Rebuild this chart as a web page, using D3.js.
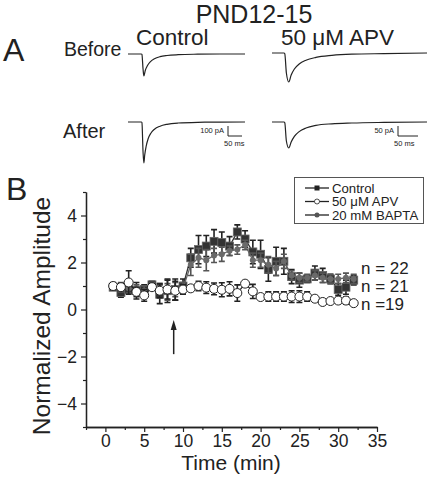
<!DOCTYPE html>
<html><head><meta charset="utf-8">
<script src="https://cdn.jsdelivr.net/npm/d3@7"></script>
<style>body{margin:0;background:#fff}svg{display:block}text{font-family:"Liberation Sans",Arial,sans-serif;fill:#222}</style>
</head><body><svg id="c" width="430" height="477"></svg>
<script>
// ---------- data ----------
const times = d3.range(1, 33); // minutes 1..32
const controlVals = [0.95,0.72,0.85,0.8,0.85,1.05,0.65,0.8,0.85,1.0,2.2,2.55,2.7,2.9,2.85,2.7,3.3,3.0,2.45,2.35,1.7,2.05,2.05,1.4,1.25,1.3,1.55,1.45,1.3,0.85,0.95,1.25];
const controlErr  = [0.1,0.2,0.15,0.35,0.2,0.15,0.4,0.5,0.45,0.3,0.4,0.6,0.45,0.5,0.45,0.4,0.3,0.35,0.5,0.6,0.5,0.6,0.55,0.3,0.3,0.15,0.3,0.3,0.2,0.25,0.3,0.2];
const apvVals = [1.0,0.95,1.15,0.75,0.6,0.95,0.8,0.85,0.8,0.85,0.9,1.0,0.93,0.88,0.84,0.88,0.7,1.1,0.77,0.53,0.55,0.55,0.55,0.55,0.55,0.55,0.46,0.32,0.36,0.38,0.38,0.27];
const apvErr  = [0.1,0.1,0.5,0.2,0.25,0.1,0.3,0.4,0.4,0.2,0.1,0.2,0.25,0.25,0.3,0.3,0.35,0.1,0.3,0.1,0.2,0.2,0.2,0.25,0.25,0.2,0.1,0.1,0.1,0.1,0.15,0.1];
const baptaVals = [1.0,0.95,0.9,0.85,0.8,1.0,0.8,0.75,0.85,0.9,1.9,2.2,2.1,2.3,2.35,2.5,2.55,2.75,2.1,2.1,1.9,1.75,2.05,1.45,1.35,1.35,1.45,1.35,1.3,1.3,1.35,1.3];
const baptaErr  = [0.15,0.2,0.2,0.2,0.2,0.15,0.3,0.35,0.3,0.25,0.45,0.4,0.45,0.3,0.3,0.2,0.2,0.2,0.3,0.3,0.35,0.3,0.3,0.2,0.2,0.15,0.2,0.2,0.2,0.2,0.2,0.2];
const seriesNames = ["Control","50 \u03bcM APV","20 mM BAPTA"];
const nLabels = ["n = 22","n = 21","n =19"];
const xTicks = [0,5,10,15,20,25,30,35];
const yTicks = [-4,-2,0,2,4];
const stimTime = 8.8;
// EPSC traces: [ms, pA]
const ctrlBefore = [[0,0],[48,0],[50,-4],[54,-150],[57,-220],[62,-165],[70,-115],[80,-78],[95,-48],[115,-27],[140,-15],[180,-7],[250,-2],[330,0],[420,0]];
const ctrlAfter  = [[0,0],[48,0],[50,-5],[54,-300],[57,-410],[60,-330],[65,-245],[72,-170],[82,-112],[95,-72],[115,-42],[140,-23],[180,-10],[250,-3],[330,-1],[420,0]];
const apvBefore  = [[0,0],[30,0],[32,-4],[36,-100],[42,-145],[48,-110],[56,-80],[68,-55],[85,-36],[110,-22],[150,-12],[200,-6],[280,-3],[388,0]];
const apvAfter   = [[0,0],[30,0],[32,-4],[36,-95],[42,-130],[48,-100],[56,-72],[68,-48],[85,-30],[110,-17],[150,-9],[200,-5],[280,-2],[388,0]];

const svg = d3.select("#c");

// ---------- panel A ----------
svg.append("text").attr("x",254).attr("y",23).attr("text-anchor","middle").attr("font-size",25).text("PND12-15");
svg.append("text").attr("x",3).attr("y",61).attr("font-size",32).text("A");
svg.append("text").attr("x",136).attr("y",45).attr("font-size",22.5).text("Control");
svg.append("text").attr("x",281).attr("y",45).attr("font-size",22.5).text("50 \u03bcM APV");
svg.append("text").attr("x",64).attr("y",56).attr("font-size",19.5).text("Before");
svg.append("text").attr("x",63).attr("y",138).attr("font-size",20).text("After");

function drawTrace(data, x0, x1, tMax, y0, pxPerPA){
  const xs = d3.scaleLinear().domain([0,tMax]).range([x0,x1]);
  const ys = d3.scaleLinear().domain([0,-1]).range([y0,y0+pxPerPA]);
  svg.append("path").datum(data).attr("fill","none").attr("stroke","#222").attr("stroke-width",1.2)
    .attr("d", d3.line().x(d=>xs(d[0])).y(d=>ys(d[1])).curve(d3.curveMonotoneX));
}
drawTrace(ctrlBefore,128,245,420,54,0.1);
drawTrace(ctrlAfter,128,245,420,122,0.1);
drawTrace(apvBefore,272,427,388,53,0.2);
drawTrace(apvAfter,272,427,388,122,0.2);

function scaleBar(xb, w, lab){
  svg.append("path").attr("d",`M${xb},126V136H${xb+w}`).attr("fill","none").attr("stroke","#222").attr("stroke-width",1);
  svg.append("text").attr("x",xb-4).attr("y",133).attr("text-anchor","end").attr("font-size",7.5).text(lab);
  svg.append("text").attr("x",xb-4).attr("y",146).attr("font-size",7.5).text("50 ms");
}
scaleBar(228,14,"100 pA");
scaleBar(398,20,"50 pA");

// ---------- panel B ----------
svg.append("text").attr("x",6).attr("y",200).attr("font-size",32).text("B");
const x = d3.scaleLinear().domain([-2.5,35]).range([86,377]);
const y = d3.scaleLinear().domain([-5,5]).range([427,192]);

const gx = svg.append("g").attr("transform",`translate(0,${y(-5)})`);
gx.call(d3.axisBottom(x).tickValues(xTicks).tickSize(5).tickPadding(2).tickSizeOuter(0).tickFormat(d3.format("d")));
gx.append("g").call(d3.axisBottom(x).tickValues(d3.range(-2.5,35,5)).tickSize(3).tickSizeOuter(0).tickFormat(""));
const gy = svg.append("g").attr("transform",`translate(${x(-2.5)},0)`);
gy.call(d3.axisLeft(y).tickValues(yTicks).tickSize(5).tickSizeOuter(0).tickFormat(d3.format("d")));
gy.append("g").call(d3.axisLeft(y).tickValues([-5,-3,-1,1,3,5]).tickSize(3).tickSizeOuter(0).tickFormat(""));
svg.selectAll(".domain").attr("stroke","#222").attr("stroke-width",1.3);
svg.selectAll(".tick line").attr("stroke","#222").attr("stroke-width",1.2);
gx.selectAll(".tick text").attr("font-size",17.5).attr("dy","0.75em").attr("fill","#222").attr("font-family","Liberation Sans, Arial");
gy.selectAll(".tick text").attr("font-size",17.5).attr("dx","-1px").attr("fill","#222").attr("font-family","Liberation Sans, Arial");

svg.append("text").attr("x",231).attr("y",470).attr("text-anchor","middle").attr("font-size",21).text("Time (min)");
svg.append("text").attr("transform","translate(50,316) rotate(-90)").attr("text-anchor","middle").attr("font-size",24.5).text("Normalized Amplitude");

// arrow
svg.append("line").attr("x1",x(stimTime)).attr("x2",x(stimTime)).attr("y1",y(-0.7)).attr("y2",y(-1.9)).attr("stroke","#222").attr("stroke-width",1.5);
svg.append("path").attr("d",`M${x(stimTime)},${y(-0.45)}l-3,10h6z`).attr("fill","#222");

const series = [
  {vals:controlVals, err:controlErr, line:"#333", kind:"square"},
  {vals:baptaVals, err:baptaErr, line:"#666", kind:"dot"},
  {vals:apvVals, err:apvErr, line:"#222", kind:"open"}
];
function drawMarker(g, kind, cx, cy){
  if(kind==="square") g.append("rect").attr("x",cx-4).attr("y",cy-4).attr("width",8).attr("height",8).attr("fill","#333").attr("stroke","#666").attr("stroke-width",0.8);
  else if(kind==="dot") g.append("circle").attr("cx",cx).attr("cy",cy).attr("r",3).attr("fill","#6a6a6a");
  else g.append("circle").attr("cx",cx).attr("cy",cy).attr("r",4.5).attr("fill","#fff").attr("stroke","#222").attr("stroke-width",1);
}
series.forEach(s=>{
  const g = svg.append("g");
  const pts = times.map((t,i)=>({t, v:s.vals[i], e:s.err[i]}));
  g.append("path").datum(pts).attr("fill","none").attr("stroke",s.line).attr("stroke-width",1.3)
    .attr("d", d3.line().x(d=>x(d.t)).y(d=>y(d.v)));
  pts.forEach(d=>{
    const cx = x(d.t);
    g.append("path").attr("d",`M${cx},${y(d.v-d.e)}V${y(d.v+d.e)}M${cx-3},${y(d.v+d.e)}h6M${cx-3},${y(d.v-d.e)}h6`)
      .attr("stroke",s.kind==="dot"?"#555":"#222").attr("stroke-width",1.6).attr("fill","none");
  });
  pts.forEach(d=>drawMarker(g, s.kind, x(d.t), y(d.v)));
});

// n labels
[274,292,310].forEach((by,i)=>{
  svg.append("text").attr("x",361).attr("y",by).attr("font-size",17).text(nLabels[i]);
});

// legend
svg.append("rect").attr("x",294.5).attr("y",177.5).attr("width",129).attr("height",46).attr("fill","#fff").attr("stroke","#555").attr("stroke-width",1);
const legKinds = ["square","open","dot"];
seriesNames.forEach((nm,i)=>{
  const ly = 188 + i*13.5;
  const lg = svg.append("g");
  lg.append("line").attr("x1",305).attr("x2",329).attr("y1",ly).attr("y2",ly).attr("stroke","#222").attr("stroke-width",1.3);
  if(legKinds[i]==="square") lg.append("rect").attr("x",314.5).attr("y",ly-2.5).attr("width",5).attr("height",5).attr("fill","#222");
  else if(legKinds[i]==="open") lg.append("circle").attr("cx",317).attr("cy",ly).attr("r",2.5).attr("fill","#fff").attr("stroke","#222").attr("stroke-width",0.8);
  else lg.append("circle").attr("cx",317).attr("cy",ly).attr("r",2.5).attr("fill","#555");
  lg.append("text").attr("x",332).attr("y",ly+4.5).attr("font-size",13.2).text(nm);
});
</script></body></html>
